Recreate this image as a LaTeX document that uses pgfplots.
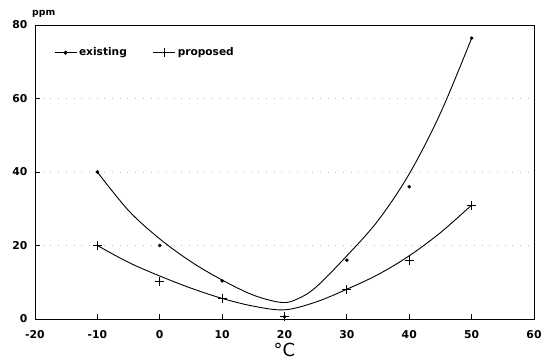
\documentclass[border=0pt]{standalone}
\usepackage{fontspec}
\setmainfont{DejaVu Sans}
\usepackage{pgfplots}
\pgfplotsset{compat=1.18}
\begin{document}
\begin{tikzpicture}
\useasboundingbox (-35pt,-44pt) rectangle (510pt,319pt);
\begin{axis}[
  at={(0pt,0pt)}, anchor=south west,
  scale only axis, width=499pt, height=294pt,
  xmin=-20, xmax=60, ymin=0, ymax=80,
  xtick={-20,-10,...,60}, ytick={0,20,...,80},
  xtick pos=bottom, ytick pos=left, tick align=inside,
  major tick length=5pt,
  axis line style={line width=0.9pt},
  every tick/.style={black, line width=0.8pt},
  /pgf/number format/assume math mode=true,
  tick label style={font=\fontsize{10.8}{12}\selectfont\bfseries},
  xticklabel style={yshift=-8pt},
  yticklabel style={xshift=-4pt},
  ymajorgrids, grid style={gray!50, dash pattern=on 0.7pt off 7pt},
  legend columns=2,
  legend style={draw=none, fill=none, at={(0.038,0.906)}, anchor=west,
    inner sep=0pt, font=\fontsize{10.6}{12}\selectfont\bfseries,
    /tikz/every even column/.append style={column sep=24pt}},
  legend image code/.code={\draw[mark repeat=2,mark phase=2,#1] plot coordinates {(0pt,0pt)(11pt,0pt)(22pt,0pt)};},
  clip=false,
]
% fitted curves
\addplot[black, line width=0.9pt, smooth, tension=0.55, forget plot] coordinates {
(-10,40) (-5,29.5) (0,21.8) (5,15.6) (10,10.6) (15,6.5) (19.5,4.5) (22,5.4) (25,8.6) (30,17.2) (35,26.8) (40,39.5) (45,56) (50,76.4)};
\addplot[black, line width=0.9pt, smooth, tension=0.55, forget plot] coordinates {
(-10,20) (-5,15.4) (0,11.7) (5,8.4) (10,5.6) (15,3.5) (20,2.5) (25,4.6) (30,8.1) (35,12.1) (40,17.2) (45,23.5) (50,31)};
% measured points
\addplot[black, only marks, mark=*, mark size=1.6pt, forget plot] coordinates {
(-10,40) (0,20) (10,10.4) (20,0.6) (30,16) (40,36) (50,76.4)};
\addplot[black, only marks, mark=+, mark size=4.5pt, mark options={line width=0.9pt}, forget plot] coordinates {
(-10,20) (0,10.2) (10,5.5) (20,0.6) (30,8) (40,16) (50,31)};
\addlegendimage{black, line width=0.9pt, mark=*, mark size=1.6pt}
\addlegendentry{existing}
\addlegendimage{black, line width=0.9pt, mark=+, mark size=4.5pt}
\addlegendentry{proposed}
\node[anchor=base west, inner sep=0pt, font=\fontsize{9.3}{11}\selectfont\bfseries, xshift=-3pt, yshift=9pt] at (rel axis cs:0,1) {ppm};
\node[anchor=base, inner sep=0pt, font=\fontsize{18}{22}\selectfont, yshift=-38pt] at (rel axis cs:0.5,0) {°C};
\end{axis}
\end{tikzpicture}
\end{document}
